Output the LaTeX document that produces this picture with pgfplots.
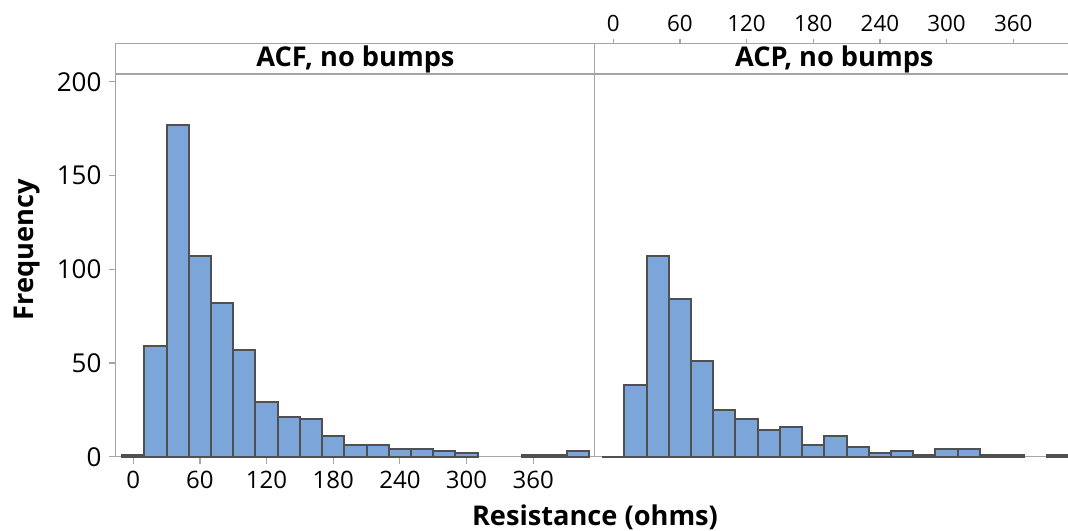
\documentclass[border=0pt]{standalone}
\usepackage{fontspec}
\setmainfont{Open Sans}
\newcommand\semib{\bfseries}
\usepackage{pgfplots}
\pgfplotsset{compat=1.18}
\definecolor{barblue}{RGB}{124,166,218}
\definecolor{edgegray}{RGB}{80,80,80}
\definecolor{axisgray}{RGB}{165,165,165}
\pgfplotsset{
  panel/.style={
    scale only axis,
    width=239.3pt, height=206.7pt,
    ymin=0, ymax=220.5,
    axis line style={draw=axisgray, line width=0.6pt},
    tick style={draw=axisgray, line width=0.6pt},
    tick align=outside,
    clip=false,
    /pgf/number format/assume math mode=true,
  },
  hist/.style={ybar, bar width=20, bar shift=0pt, fill=barblue, draw=edgegray, line width=1pt},
}
\begin{document}
\begin{tikzpicture}
\useasboundingbox (0,0) rectangle (534pt,265pt);
% left panel
\begin{axis}[panel, at={(57.85pt,36.65pt)}, anchor=south west,
  xmin=-15.8, xmax=415,
  xtick={0,60,...,360}, xtick pos=bottom,
  ytick={0,50,...,200}, ytick pos=left,
  major tick length=3.6pt,
  yticklabel style={font=\fontsize{13}{15}\selectfont},
  xticklabel style={font=\fontsize{12}{14}\selectfont},
]
\addplot[hist] coordinates {
(0,1) (20,59) (40,177) (60,107) (80,82) (100,57) (120,29) (140,21) (160,20)
(180,11) (200,6) (220,6) (240,4) (260,4) (280,3) (300,2) (360,1) (380,1) (400,3)
};
\draw[axisgray, line width=0.6pt] (rel axis cs:0,0.92562) -- (rel axis cs:1,0.92562);
\node[font=\semib\fontsize{13.6}{16}\selectfont, anchor=base] at (axis cs:200,208) {ACF, no bumps};
\end{axis}
% right panel
\begin{axis}[panel, at={(297.35pt,36.65pt)}, anchor=south west,
  xmin=-16.7, xmax=414.1,
  xtick={0,60,...,360}, xtick pos=top, xticklabel pos=top,
  ytick=\empty,
  major tick length=2.3pt,
  xticklabel style={font=\fontsize{11.2}{13}\selectfont},
]
\addplot[hist] coordinates {
(0,0) (20,38) (40,107) (60,84) (80,51) (100,25) (120,20) (140,14) (160,16)
(180,6) (200,11) (220,5) (240,2) (260,3) (280,1) (300,4) (320,4) (340,1) (360,1) (400,1)
};
\draw[axisgray, line width=0.6pt] (rel axis cs:0,0.92562) -- (rel axis cs:1,0.92562);
\node[font=\semib\fontsize{13.6}{16}\selectfont, anchor=base] at (axis cs:199,208) {ACP, no bumps};
\end{axis}
\node[rotate=90, anchor=base, font=\semib\fontsize{13.6}{16}\selectfont] at (16.65pt,140pt) {Frequency};
\node[anchor=base, font=\semib\fontsize{13.6}{16}\selectfont] at (297.5pt,2.5pt) {Resistance (ohms)};
\end{tikzpicture}
\end{document}
